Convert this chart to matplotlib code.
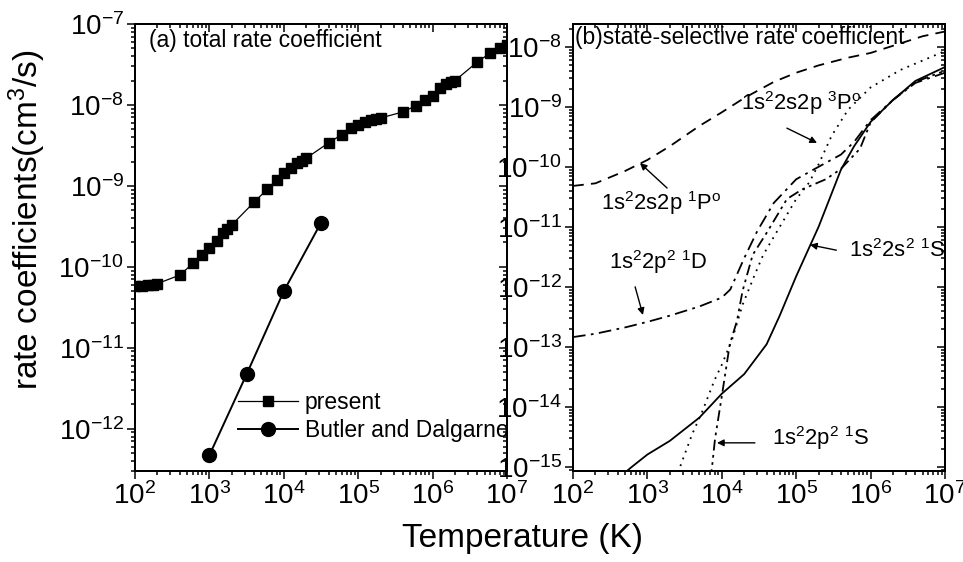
import numpy as np
import matplotlib
matplotlib.use('Agg')
import matplotlib.pyplot as plt
from matplotlib.ticker import LogLocator, NullFormatter
from matplotlib.lines import Line2D

plt.rcParams['font.family'] = ['Liberation Sans', 'DejaVu Sans']
plt.rcParams['mathtext.fontset'] = 'custom'
plt.rcParams['mathtext.rm'] = 'Liberation Sans'
plt.rcParams['mathtext.it'] = 'Liberation Sans'
plt.rcParams['mathtext.bf'] = 'Liberation Sans:bold'
plt.rcParams['axes.unicode_minus'] = False

# ---------------- data: panel (a) ----------------
T_present = [100, 125, 150, 175, 200, 400, 600, 800, 1000, 1250, 1500, 1750, 2000,
             4000, 6000, 8000, 1e4, 1.25e4, 1.5e4, 1.75e4, 2e4, 4e4, 6e4, 8e4,
             1e5, 1.25e5, 1.5e5, 1.75e5, 2e5, 4e5, 6e5, 8e5, 1e6, 1.25e6, 1.5e6,
             1.75e6, 2e6, 4e6, 6e6, 8e6, 1e7]
k_present = [5.8e-11, 5.8e-11, 5.9e-11, 6.0e-11, 6.2e-11, 7.9e-11, 1.1e-10, 1.4e-10,
             1.7e-10, 2.1e-10, 2.6e-10, 2.9e-10, 3.3e-10, 6.3e-10, 9.1e-10, 1.17e-9,
             1.44e-9, 1.66e-9, 1.9e-9, 2.05e-9, 2.2e-9, 3.4e-9, 4.3e-9, 5.2e-9,
             5.7e-9, 6.2e-9, 6.5e-9, 6.7e-9, 6.9e-9, 8.2e-9, 9.8e-9, 1.15e-8,
             1.3e-8, 1.6e-8, 1.8e-8, 1.9e-8, 2.0e-8, 3.4e-8, 4.4e-8, 5.0e-8, 5.5e-8]
T_butler = [1000, 3162, 10000, 31623]
k_butler = [4.7e-13, 4.7e-12, 5.0e-11, 3.5e-10]

# ---------------- data: panel (b) ----------------
T_1P = [100, 200, 500, 1000, 2000, 5000, 1e4, 2e4, 5e4, 1e5, 2e5, 5e5, 1e6, 2e6, 5e6, 1e7]
k_1P = [4.8e-11, 5.3e-11, 8.5e-11, 1.3e-10, 2.2e-10, 4.8e-10, 8.1e-10, 1.4e-9, 2.6e-9,
        3.7e-9, 4.9e-9, 6.6e-9, 7.9e-9, 1.04e-8, 1.5e-8, 1.8e-8]

T_1D = [100, 200, 500, 1000, 2000, 5000, 1e4, 1.3e4, 2e4, 3e4, 5e4, 1e5, 2e5, 4e5, 6e5,
        1e6, 2e6, 4e6, 1e7]
k_1D = [1.45e-13, 1.65e-13, 2.1e-13, 2.6e-13, 3.3e-13, 4.7e-13, 6.6e-13, 9.0e-13, 3.0e-12,
        8.5e-12, 2.5e-11, 6.2e-11, 1.0e-10, 1.6e-10, 2.6e-10, 6.0e-10, 1.3e-9, 2.5e-9, 3.7e-9]

T_1S_p2 = [7000, 7400, 8100, 1e4, 1.28e4, 1.6e4, 1.9e4, 2.6e4, 4.1e4, 7.5e4, 1.2e5, 2.5e5,
           3.9e5, 7.2e5, 1e6, 2e6, 4e6, 1e7]
k_1S_p2 = [6e-16, 1e-15, 2.9e-15, 1.5e-14, 1.1e-13, 2.7e-13, 8.5e-13, 3.4e-12, 8.3e-12,
           2.9e-11, 4.2e-11, 6.2e-11, 9.0e-11, 2.0e-10, 5.5e-10, 1.3e-9, 2.6e-9, 4.0e-9]

T_3P = [2500, 2750, 4000, 5500, 8000, 1e4, 1.37e4, 1.9e4, 2.78e4, 3.6e4, 5.5e4, 1e5, 1.5e5,
        2e5, 3e5, 5e5, 1e6, 2.5e6, 1e7]
k_3P = [6e-16, 1e-15, 3.5e-15, 8.5e-15, 2.8e-14, 5.0e-14, 1.3e-13, 5.0e-13, 1.6e-12,
        3.4e-12, 8.3e-12, 2.9e-11, 5.5e-11, 1.1e-10, 3.3e-10, 9.0e-10, 2.1e-9, 4.1e-9, 8.5e-9]

T_1S_s2 = [500, 620, 1000, 2000, 5000, 1e4, 2e4, 4e4, 6e4, 1e5, 2e5, 4e5, 6e5, 1e6, 2e6,
           4e6, 1e7]
k_1S_s2 = [8e-16, 1e-15, 1.6e-15, 2.7e-15, 6.6e-15, 1.65e-14, 3.5e-14, 1.1e-13, 3.3e-13,
           1.5e-12, 1.0e-11, 9.0e-11, 2.2e-10, 5.6e-10, 1.3e-9, 2.7e-9, 4.6e-9]

x_ticks = [1e2, 1e3, 1e4, 1e5, 1e6, 1e7]

# ---------------- figure ----------------
W, H = 963, 562
fig = plt.figure(figsize=(W / 100, H / 100), dpi=100)


def axrect(x0, x1, y0, y1):
    return [x0 / W, 1 - y1 / H, (x1 - x0) / W, (y1 - y0) / H]


ax1 = fig.add_axes(axrect(135, 507, 24, 471))
ax2 = fig.add_axes(axrect(573, 945, 24, 471))


def style_axes(ax, ylim):
    ax.set_xscale('log')
    ax.set_yscale('log')
    ax.set_xlim(1e2, 1e7)
    ax.set_ylim(*ylim)
    ax.set_xticks(x_ticks)
    ax.xaxis.set_minor_locator(LogLocator(base=10, subs=np.arange(2, 10), numticks=30))
    ax.xaxis.set_minor_formatter(NullFormatter())
    ax.yaxis.set_major_locator(LogLocator(base=10, numticks=30))
    ax.yaxis.set_minor_locator(LogLocator(base=10, subs=np.arange(2, 10), numticks=30))
    ax.yaxis.set_minor_formatter(NullFormatter())
    for s in ax.spines.values():
        s.set_linewidth(1.3)
    ax.tick_params(which='both', direction='out', labelsize=20, width=1.1, colors='black')
    ax.tick_params(which='major', length=6, pad=2)
    ax.tick_params(which='minor', length=3)
    ax.tick_params(axis='y', which='major', pad=2)
    # mirrored inward ticks on top and right
    tx = ax.twiny()
    tx.set_xscale('log')
    tx.set_xlim(ax.get_xlim())
    tx.xaxis.set_major_locator(LogLocator(base=10, numticks=30))
    tx.xaxis.set_minor_locator(LogLocator(base=10, subs=np.arange(2, 10), numticks=30))
    tx.tick_params(which='both', direction='in', labeltop=False, labelbottom=False, width=1.1)
    tx.tick_params(which='major', length=6)
    tx.tick_params(which='minor', length=3)
    tx.xaxis.set_minor_formatter(NullFormatter())
    ty = ax.twinx()
    ty.set_yscale('log')
    ty.set_ylim(ax.get_ylim())
    ty.yaxis.set_major_locator(LogLocator(base=10, numticks=30))
    ty.yaxis.set_minor_locator(LogLocator(base=10, subs=np.arange(2, 10), numticks=30))
    ty.tick_params(which='both', direction='in', labelright=False, labelleft=False, width=1.1)
    ty.tick_params(which='major', length=6)
    ty.tick_params(which='minor', length=3)
    ty.yaxis.set_minor_formatter(NullFormatter())
    for t in (tx, ty):
        for s in t.spines.values():
            s.set_linewidth(1.3)


style_axes(ax1, (3.0e-13, 1e-7))
style_axes(ax2, (8.5e-16, 2.4e-8))

# ---------------- panel (a) ----------------
ax1.plot(T_present, k_present, color='black', lw=0.9, marker='s', markersize=6.5,
         markerfacecolor='black', markeredgecolor='black', zorder=3)
ax1.plot(T_butler, k_butler, color='black', lw=1.4, marker='o', markersize=10,
         markerfacecolor='black', markeredgecolor='black', zorder=3)

handles = [Line2D([], [], color='black', lw=0.9, marker='s', markersize=6.5),
           Line2D([], [], color='black', lw=1.4, marker='o', markersize=10)]
ax1.legend(handles, ['present', 'Butler and Dalgarno'], loc='upper left',
           bbox_to_anchor=(0.277, 0.178), frameon=False, fontsize=16.5,
           handlelength=2.62, handletextpad=0.3, labelspacing=0.2,
           borderpad=0, borderaxespad=0)

ax1.text(0.038, 0.962, '(a) total rate coefficient', transform=ax1.transAxes,
         fontsize=16.5, ha='left', va='center')

# ---------------- panel (b) ----------------
lw = 1.3
ax2.plot(T_1P, k_1P, color='black', lw=lw, linestyle=(0, (6, 4)))
ax2.plot(T_1D, k_1D, color='black', lw=lw, linestyle=(0, (7, 3, 1.5, 3)))
ax2.plot(T_1S_p2, k_1S_p2, color='black', lw=lw, linestyle=(0, (6, 2.5, 1.5, 2.5, 1.5, 2.5)))
ax2.plot(T_3P, k_3P, color='black', lw=lw, linestyle=(0, (1, 3)))
ax2.plot(T_1S_s2, k_1S_s2, color='black', lw=lw, linestyle='-')

ax2.text(0.005, 0.969, '(b)state-selective rate coefficient', transform=ax2.transAxes,
         fontsize=16.5, ha='left', va='center')

labels_b = [
    (r'1s$^2$2s2p $^3$P$^\mathrm{o}$', (0.452, 0.823), (0.575, 0.767), (0.656, 0.734)),
    (r'1s$^2$2s2p $^1$P$^\mathrm{o}$', (0.075, 0.600), (0.253, 0.633), (0.180, 0.689)),
    (r'1s$^2$2p$^2$ $^1$D', (0.097, 0.468), (0.167, 0.412), (0.188, 0.349)),
    (r'1s$^2$2s$^2$ $^1$S', (0.742, 0.494), (0.708, 0.494), (0.637, 0.506)),
    (r'1s$^2$2p$^2$ $^1$S', (0.535, 0.074), (0.489, 0.063), (0.387, 0.063)),
]
for txt, tpos, a0, a1 in labels_b:
    ax2.text(tpos[0], tpos[1], txt, transform=ax2.transAxes, fontsize=15.8,
             ha='left', va='center')
    ax2.annotate('', xy=a1, xytext=a0, xycoords='axes fraction', textcoords='axes fraction',
                 arrowprops=dict(arrowstyle='-|>', lw=1.0, color='black',
                                 mutation_scale=10, shrinkA=0, shrinkB=0))

# ---------------- axis labels ----------------
fig.text(522 / W, 1 - 538 / H, 'Temperature (K)', fontsize=24, ha='center', va='center')
fig.text(27 / W, 1 - 220 / H, 'rate coefficients(cm$^3$/s)', fontsize=24, rotation=90,
         ha='center', va='center')

fig.savefig('out.png', dpi=100)
